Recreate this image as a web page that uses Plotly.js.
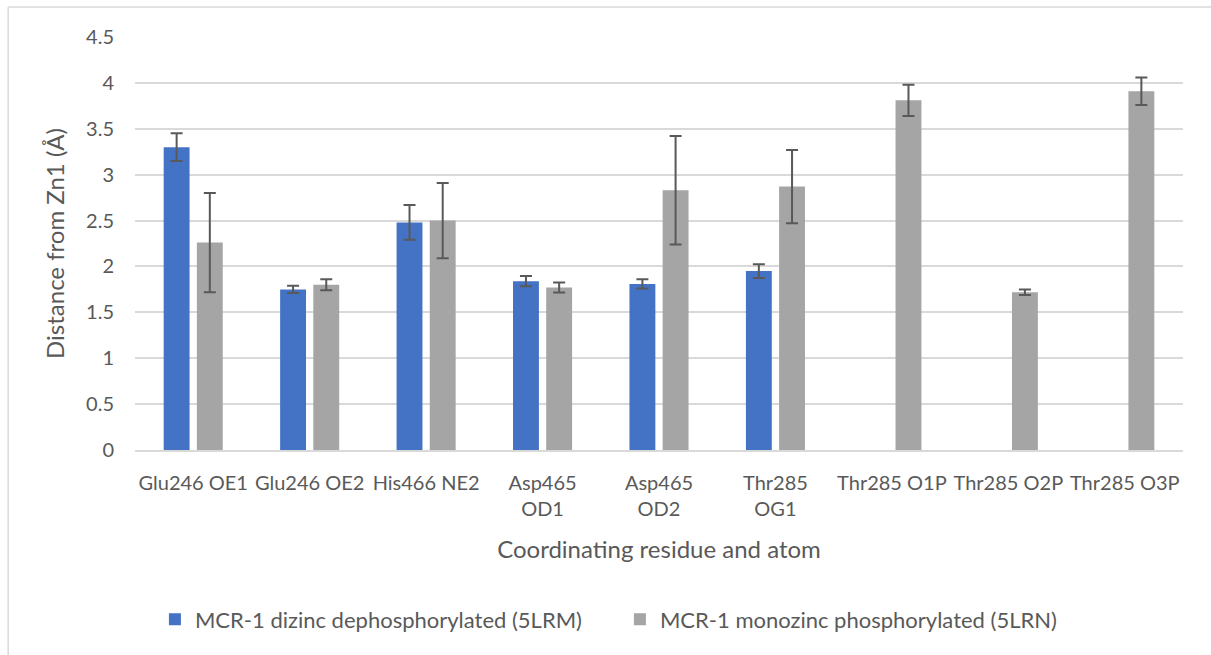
<!DOCTYPE html>
<html>
<head>
<meta charset="utf-8">
<script src="https://cdn.plot.ly/plotly-3.0.1.min.js"></script>
<style>
  html, body { margin: 0; padding: 0; background: #ffffff; }
  #chart { width: 1211px; height: 655px; }
</style>
</head>
<body>
<div id="chart"></div>
<script>
// Categories (tick labels)
const categories = [
  "Glu246 OE1", "Glu246 OE2", "His466 NE2", "Asp465<br>OD1", "Asp465<br>OD2",
  "Thr285<br>OG1", "Thr285 O1P", "Thr285 O2P", "Thr285 O3P"
];

// Series 1: MCR-1 dizinc dephosphorylated (5LRM)
const dizincName = "MCR-1 dizinc dephosphorylated (5LRM)";
const dizincValues = [3.30, 1.75, 2.48, 1.84, 1.81, 1.95, null, null, null];
const dizincErrors = [0.15, 0.04, 0.19, 0.055, 0.05, 0.075, null, null, null];

// Series 2: MCR-1 monozinc phosphorylated (5LRN)
const monozincName = "MCR-1 monozinc phosphorylated (5LRN)";
const monozincValues = [2.26, 1.80, 2.50, 1.77, 2.83, 2.87, 3.81, 1.72, 3.91];
const monozincErrors = [0.54, 0.06, 0.41, 0.055, 0.59, 0.40, 0.17, 0.03, 0.15];

const yTickVals = [0, 0.5, 1, 1.5, 2, 2.5, 3, 3.5, 4, 4.5];
const yTickText = ["0", "0.5", "1", "1.5", "2", "2.5", "3", "3.5", "4", "4.5"];

const FONT = "Lato, 'Noto Sans', sans-serif";
const TEXT = "#595959";

const errStyle = { type: "data", visible: true, color: "#595959", thickness: 2, width: 6 };

const traces = [
  {
    type: "bar", name: dizincName, x: categories, y: dizincValues,
    marker: { color: "#4472C4" },
    error_y: Object.assign({ array: dizincErrors }, errStyle),
    hoverinfo: "x+y"
  },
  {
    type: "bar", name: monozincName, x: categories, y: monozincValues,
    marker: { color: "#A5A5A5" },
    error_y: Object.assign({ array: monozincErrors }, errStyle),
    hoverinfo: "x+y"
  }
];

const layout = {
  width: 1211, height: 655,
  margin: { l: 135, r: 28, t: 37, b: 205 },
  paper_bgcolor: "#ffffff", plot_bgcolor: "#ffffff",
  font: { family: FONT, color: TEXT, size: 20 },
  barmode: "group",
  bargap: 0.43,
  bargroupgap: 0.22,
  showlegend: true,
  legend: {
    orientation: "h", x: 0.019, xanchor: "left", y: -0.41, yanchor: "middle",
    font: { family: FONT, size: 22, color: TEXT },
    traceorder: "normal",
    entrywidth: 420, entrywidthmode: "pixels"
  },
  xaxis: {
    type: "category",
    tickangle: 0,
    showgrid: false,
    showline: true, linecolor: "#d9d9d9", linewidth: 1.5,
    ticks: "",
    ticklabelstandoff: 14,
    tickfont: { family: FONT, size: 20, color: TEXT },
    title: { text: "Coordinating residue and atom", font: { family: FONT, size: 24, color: TEXT }, standoff: 22 },
    automargin: false
  },
  yaxis: {
    range: [0, 4.5],
    tickmode: "array", tickvals: yTickVals, ticktext: yTickText,
    showgrid: true, gridcolor: "#d9d9d9", gridwidth: 1.5,
    zeroline: false, showline: false,
    ticks: "",
    ticklabelstandoff: 20,
    tickfont: { family: FONT, size: 20, color: TEXT },
    title: { text: "Distance from Zn1 (Å)", font: { family: FONT, size: 24, color: TEXT }, standoff: 14 },
    automargin: false
  },
  shapes: [
    { type: "line", xref: "paper", yref: "paper", x0: -0.121, x1: 1.03, y0: 1.0726, y1: 1.0726, line: { color: "#d9d9d9", width: 1.5 } },
    { type: "line", xref: "paper", yref: "paper", x0: -0.121, x1: -0.121, y0: 1.0726, y1: -0.52, line: { color: "#d9d9d9", width: 1.5 } }
  ]
};

Plotly.newPlot("chart", traces, layout, { displayModeBar: false, responsive: false });
</script>
</body>
</html>
